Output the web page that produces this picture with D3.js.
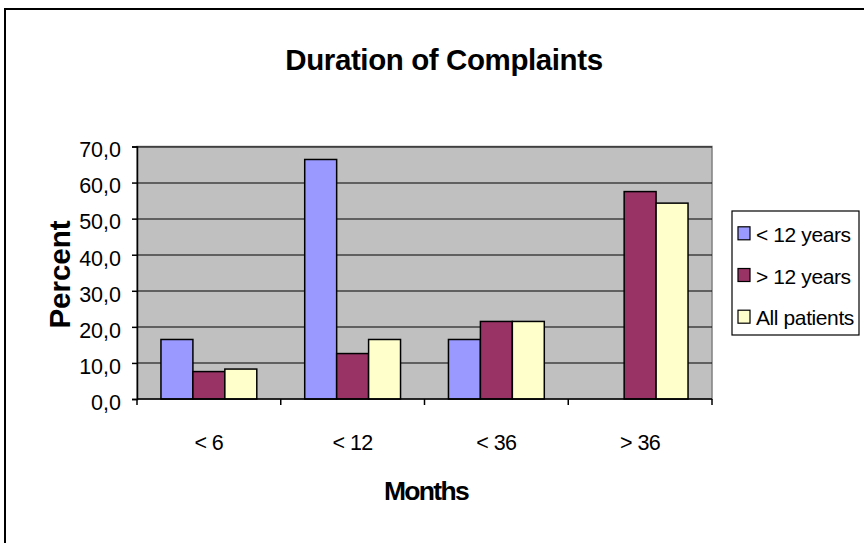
<!DOCTYPE html>
<html>
<head>
<meta charset="utf-8">
<script src="https://cdn.jsdelivr.net/npm/d3@7"></script>
<style>
  body { margin: 0; background: #fff; }
  svg { display: block; font-family: "Liberation Sans", Arial, sans-serif; }
</style>
</head>
<body>
<div id="chart"></div>
<script>
// --- data ---
const categories = ["< 6", "< 12", "< 36", "> 36"];
const seriesNames = ["< 12 years", "> 12 years", "All patients"];
const under12 = [16.5, 66.4, 16.5, 0];
const over12 = [7.6, 12.6, 21.5, 57.5];
const allPatients = [8.3, 16.5, 21.5, 54.3];
const yTicks = [0, 10, 20, 30, 40, 50, 60, 70];

const seriesValues = [under12, over12, allPatients];
const colors = ["#9999ff", "#993366", "#ffffcc"];

const W = 864, H = 543;
const margin = { top: 146.5, right: 152, bottom: 144, left: 137 };
const innerW = W - margin.left - margin.right;
const innerH = H - margin.top - margin.bottom;

const svg = d3.select("#chart").append("svg")
  .attr("width", W)
  .attr("height", H);

// outer chart border (runs off the right and bottom edge)
svg.append("rect")
  .attr("x", 5).attr("y", 9)
  .attr("width", W + 10).attr("height", H + 10)
  .attr("fill", "#fff")
  .attr("stroke", "#000")
  .attr("stroke-width", 2);

const g = svg.append("g").attr("transform", `translate(${margin.left},${margin.top})`);

const x = d3.scaleBand().domain(categories).range([0, innerW]);
const xInner = d3.scaleBand().domain(seriesNames)
  .range([x.bandwidth() / 6, x.bandwidth() * 5 / 6]);
const y = d3.scaleLinear().domain([0, 70]).range([innerH, 0]);

const commaFmt = d3.formatLocale({ decimal: ",", thousands: ".", grouping: [3], currency: ["", ""] }).format(".1f");

// plot area
g.append("rect")
  .attr("width", innerW).attr("height", innerH)
  .attr("fill", "#c0c0c0")
  .attr("stroke", "#808080")
  .attr("stroke-width", 1.5);

// gridlines
g.append("g")
  .selectAll("line")
  .data(yTicks.filter(d => d > 0))
  .join("line")
    .attr("x1", 0).attr("x2", innerW)
    .attr("y1", d => Math.round(y(d)) + 0.5)
    .attr("y2", d => Math.round(y(d)) + 0.5)
    .attr("stroke", "#000")
    .attr("stroke-width", 1.2);

// bars
const rows = [];
categories.forEach((c, i) => {
  seriesNames.forEach((s, j) => {
    rows.push({ cat: c, series: s, value: seriesValues[j][i], color: colors[j] });
  });
});

g.append("g")
  .selectAll("rect")
  .data(rows.filter(d => d.value > 0))
  .join("rect")
    .attr("x", d => x(d.cat) + xInner(d.series))
    .attr("y", d => y(d.value))
    .attr("width", xInner.bandwidth())
    .attr("height", d => innerH - y(d.value))
    .attr("fill", d => d.color)
    .attr("stroke", "#000")
    .attr("stroke-width", 1.5);

// y axis
g.append("g")
  .call(d3.axisLeft(y).tickValues(yTicks).tickFormat(commaFmt).tickSize(5).tickPadding(11))
  .call(ax => ax.select(".domain").attr("stroke", "#000").attr("stroke-width", 1.5))
  .call(ax => ax.selectAll(".tick line").attr("stroke", "#000").attr("stroke-width", 1.5))
  .call(ax => ax.selectAll("text")
    .attr("font-size", 21.5)
    .attr("font-family", "Liberation Sans, Arial, sans-serif")
    .attr("dy", "0.48em")
    .attr("fill", "#000"));

// x axis with ticks between categories
const xAxisG = g.append("g").attr("transform", `translate(0,${innerH})`);
xAxisG.append("line")
  .attr("x1", 0).attr("x2", innerW)
  .attr("stroke", "#000").attr("stroke-width", 1.5);
xAxisG.selectAll(".sep")
  .data(categories.concat(["end"]))
  .join("line")
    .attr("class", "sep")
    .attr("x1", (d, i) => i < categories.length ? x(d) : innerW)
    .attr("x2", (d, i) => i < categories.length ? x(d) : innerW)
    .attr("y1", 0).attr("y2", 6)
    .attr("stroke", "#000").attr("stroke-width", 1.5);
xAxisG.selectAll(".cat")
  .data(categories)
  .join("text")
    .attr("class", "cat")
    .attr("x", d => x(d) + x.bandwidth() / 2)
    .attr("y", 51)
    .attr("text-anchor", "middle")
    .attr("font-size", 21.5)
    .attr("letter-spacing", "-0.6px")
    .text(d => d);

// title
svg.append("text")
  .attr("x", 444).attr("y", 69.5)
  .attr("text-anchor", "middle")
  .attr("font-size", 29.5)
  .attr("font-weight", "bold")
  .attr("letter-spacing", "-0.4px")
  .text("Duration of Complaints");

// axis titles
svg.append("text")
  .attr("x", 426).attr("y", 500)
  .attr("text-anchor", "middle")
  .attr("font-size", 26.5)
  .attr("font-weight", "bold")
  .attr("letter-spacing", "-1.7px")
  .text("Months");

svg.append("text")
  .attr("transform", "translate(70,274.5) rotate(-90)")
  .attr("text-anchor", "middle")
  .attr("font-size", 29.5)
  .attr("font-weight", "bold")
  .text("Percent");

// legend
const legend = svg.append("g").attr("transform", "translate(732,211)");
legend.append("rect")
  .attr("width", 127).attr("height", 124)
  .attr("fill", "#fff")
  .attr("stroke", "#000")
  .attr("stroke-width", 1.2);

const items = legend.selectAll(".item")
  .data(seriesNames)
  .join("g")
    .attr("class", "item")
    .attr("transform", (d, i) => `translate(0,${22.3 + i * 41.7})`);
items.append("rect")
  .attr("x", 6).attr("y", -6.5)
  .attr("width", 12).attr("height", 13)
  .attr("fill", (d, i) => colors[i])
  .attr("stroke", "#000")
  .attr("stroke-width", 1.2);
items.append("text")
  .attr("x", 24).attr("y", 8.5)
  .attr("font-size", 21)
  .attr("letter-spacing", "-0.4px")
  .text(d => d);
</script>
</body>
</html>
